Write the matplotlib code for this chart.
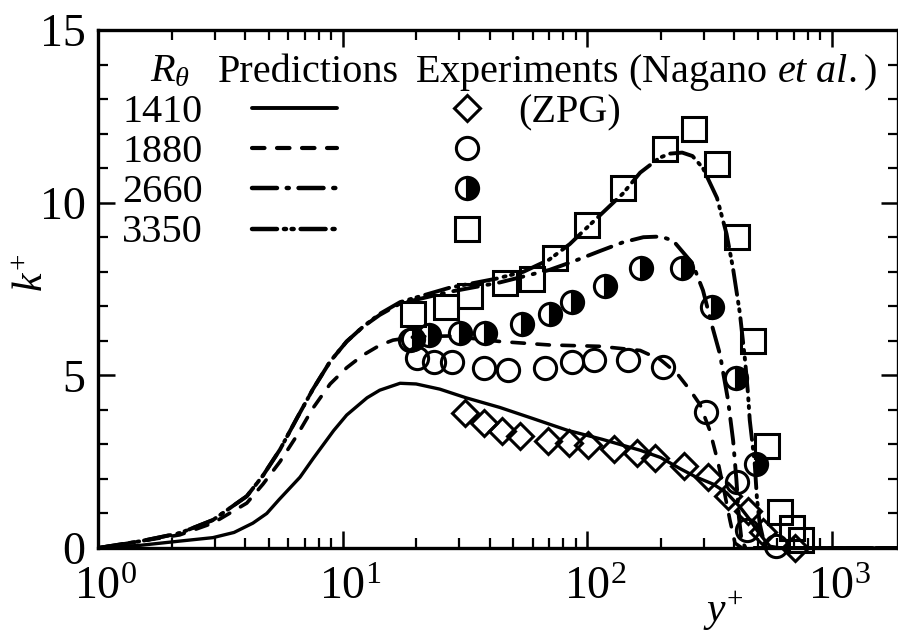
import numpy as np
import matplotlib
matplotlib.use('Agg')
import matplotlib.pyplot as plt
import matplotlib.transforms as mtransforms
from matplotlib.ticker import LogLocator, MultipleLocator, NullFormatter, LogFormatterMathtext

plt.rcParams['font.family'] = ['Liberation Serif', 'DejaVu Serif']
plt.rcParams['mathtext.fontset'] = 'custom'
plt.rcParams['mathtext.rm'] = 'Liberation Serif'
plt.rcParams['mathtext.it'] = 'Liberation Serif:italic'
plt.rcParams['lines.scale_dashes'] = False

re_theta = ['1410', '1880', '2660', '3350']

# k-epsilon model predictions
pred_y_1410 = [1.0, 1.5, 2.16, 2.95, 3.6, 4.3, 4.9, 5.5, 6.7, 7.6, 9.2, 10.4, 12.6, 14.2, 17.2,
               20, 25, 32, 44, 60, 83, 115, 165, 200, 240, 280, 328, 372, 422, 460, 495, 530,
               560, 620, 1000, 1870]
pred_k_1410 = [0.0, 0.08, 0.2, 0.3, 0.45, 0.72, 1.0, 1.4, 2.05, 2.6, 3.4, 3.85, 4.35, 4.57, 4.77,
               4.75, 4.6, 4.35, 4.07, 3.75, 3.41, 3.15, 2.83, 2.62, 2.3, 2.05, 1.85, 1.6, 1.19, 0.85,
               0.52, 0.25, 0.05, 0.0, 0.0, 0.0]

pred_y_1880 = [1.0, 1.5, 2.16, 2.95, 4.06, 4.73, 5.55, 6.5, 7.57, 8.9, 10.4, 12.1, 14.2, 16.1,
               20, 27.5, 44, 70, 113, 165, 200, 233, 264, 290, 318, 344, 365, 384, 403, 430, 1000, 1870]
pred_k_1880 = [0.0, 0.2, 0.38, 0.72, 1.3, 1.85, 2.5, 3.25, 4.05, 4.75, 5.22, 5.58, 5.87, 6.02,
               6.12, 6.14, 5.98, 5.88, 5.84, 5.72, 5.45, 5.06, 4.57, 4.15, 3.4, 2.46, 1.6, 0.81, 0.14,
               0.0, 0.0, 0.0]

pred_y_2660 = [1.0, 1.5, 2.16, 2.95, 4.06, 4.73, 5.55, 6.5, 7.57, 8.9, 10.4, 12.1, 14.2, 17.2,
               27.5, 44, 70, 88, 113, 140, 170, 200, 225, 270, 298, 326, 350, 362, 377, 396, 408,
               418, 428, 445, 1000, 1870]
pred_k_2660 = [0.0, 0.2, 0.43, 0.81, 1.5, 2.1, 2.85, 3.75, 4.6, 5.4, 5.98, 6.4, 6.75, 7.08,
               7.42, 7.69, 8.05, 8.3, 8.6, 8.85, 9.0, 9.02, 8.9, 8.24, 7.46, 6.39, 5.6, 5.0, 4.3, 3.1,
               2.0, 0.9, 0.25, 0.0, 0.0, 0.0]

pred_y_3350 = [1.0, 1.5, 2.16, 2.95, 4.06, 4.73, 5.55, 6.5, 7.57, 8.9, 10.4, 12.1, 14.2, 17.2,
               27.5, 42.6, 55, 70, 85, 100, 140, 165, 198, 218, 245, 270, 298, 340, 372, 395, 422,
               443, 455, 463, 485, 495, 508, 530, 560, 1000, 1870]
pred_k_3350 = [0.0, 0.2, 0.43, 0.81, 1.5, 2.1, 2.85, 3.75, 4.6, 5.4, 5.98, 6.4, 6.78, 7.12,
               7.54, 7.8, 8.0, 8.35, 8.8, 9.28, 10.26, 10.87, 11.3, 11.42, 11.45, 11.35, 11.0, 10.14,
               9.1, 8.12, 6.79, 5.43, 4.5, 3.7, 2.46, 1.47, 0.72, 0.14, 0.0, 0.0, 0.0]

# measurements, Nagano et al.
exp_y_1410 = [31.7, 37.9, 44.9, 53.2, 69.2, 84.4, 101, 129, 160, 190, 249, 313, 377, 455, 525, 709]
exp_k_1410 = [3.90, 3.61, 3.38, 3.24, 3.09, 3.03, 2.98, 2.86, 2.75, 2.60, 2.37, 2.05, 1.50, 1.07,
              0.46, 0.0]

exp_y_1880 = [18.9, 20.2, 23.7, 28.1, 37.9, 47.5, 67.3, 86.9, 107, 147, 205, 307, 411, 451, 593]
exp_k_1880 = [6.01, 5.49, 5.38, 5.38, 5.20, 5.14, 5.20, 5.38, 5.43, 5.43, 5.23, 3.93, 1.91, 0.52,
              0.06]

exp_y_2660 = [19.4, 22.6, 30.3, 38.3, 54.2, 70.6, 86.9, 118.5, 166, 245, 325, 407, 491]
exp_k_2660 = [6.04, 6.18, 6.24, 6.24, 6.50, 6.79, 7.11, 7.60, 8.12, 8.12, 6.99, 4.91, 2.43]

exp_y_3350 = [19.4, 26.5, 33.2, 46.2, 59.6, 74.0, 100, 140, 208, 274, 340, 411, 477, 545, 616,
              689, 750]
exp_k_3350 = [6.79, 6.97, 7.31, 7.66, 7.80, 8.41, 9.34, 10.43, 11.56, 12.14, 11.13, 9.02, 5.98,
              2.95, 1.04, 0.58, 0.23]

pred_y = [pred_y_1410, pred_y_1880, pred_y_2660, pred_y_3350]
pred_k = [pred_k_1410, pred_k_1880, pred_k_2660, pred_k_3350]
exp_y = [exp_y_1410, exp_y_1880, exp_y_2660, exp_y_3350]
exp_k = [exp_k_1410, exp_k_1880, exp_k_2660, exp_k_3350]

line_dashes = [None, (0, (9, 9)), (0, (18, 7, 1.5, 7)), (0, (18, 5, 1.5, 4, 1.5, 5))]
line_widths = [2.4, 2.6, 2.8, 2.8]
marker_kw = [
    dict(marker='D', markersize=13.5, markerfacecolor='none'),
    dict(marker='o', markersize=16, markerfacecolor='none'),
    dict(marker='o', markersize=16, fillstyle='right', markerfacecolor='black',
         markerfacecoloralt='none'),
    dict(marker='s', markersize=17.5, markerfacecolor='none'),
]

fig = plt.figure(figsize=(8.98, 6.35), dpi=100)
ax = fig.add_axes([98 / 898, 87 / 635, 800 / 898, 518 / 635])

for i in range(4):
    ls = '-' if line_dashes[i] is None else line_dashes[i]
    ax.plot(pred_y[i], pred_k[i], color='black', linestyle=ls, linewidth=line_widths[i],
            dash_capstyle='round', solid_capstyle='round', zorder=3)
    ax.plot(exp_y[i], exp_k[i], linestyle='none', color='black', markeredgecolor='black',
            markeredgewidth=2.2, clip_on=False, zorder=4, **marker_kw[i])

ax.set_xscale('log')
ax.set_xlim(1, 1870)
ax.set_ylim(0, 15)

ax.xaxis.set_major_locator(LogLocator(base=10, numticks=10))
ax.xaxis.set_minor_locator(LogLocator(base=10, subs=np.arange(2, 10), numticks=20))
ax.xaxis.set_major_formatter(LogFormatterMathtext())
ax.xaxis.set_minor_formatter(NullFormatter())
ax.yaxis.set_major_locator(MultipleLocator(5))
ax.yaxis.set_minor_locator(MultipleLocator(1))

ax.tick_params(which='both', direction='in', top=True, right=True, labelsize=33)
ax.tick_params(which='major', length=12, width=1.8)
ax.tick_params(which='minor', length=7, width=1.6)
ax.tick_params(axis='x', which='major', pad=13)
ax.tick_params(axis='y', which='major', pad=9)
for sp in ax.spines.values():
    sp.set_linewidth(2.4)

# keep the "10" under the tick, exponent hangs to the right
shift = mtransforms.ScaledTranslation(0.08, 0, fig.dpi_scale_trans)
for lbl in ax.get_xticklabels():
    lbl.set_transform(lbl.get_transform() + shift)

ax.set_xlabel(r'$y^{+}$', fontsize=30, va='center')
ax.xaxis.set_label_coords(0.781, -0.122)
ax.set_ylabel(r'$k^{+}$', fontsize=30, va='center')
ax.yaxis.set_label_coords(-0.082, 0.531)

# key block in the upper left
fs = 29
ax.text(0.065, 0.900, r'$R_\theta$', fontsize=fs, transform=ax.transAxes, va='baseline')
ax.text(0.150, 0.900, 'Predictions', fontsize=fs, transform=ax.transAxes, va='baseline')
ax.text(0.396, 0.900, r'Experiments (Nagano $et\ al.$)', fontsize=fs,
        transform=ax.transAxes, va='baseline')
ax.text(0.525, 0.822, '(ZPG)', fontsize=fs, transform=ax.transAxes, va='baseline')

row_base = [0.822, 0.745, 0.668, 0.591]
row_line = [0.849, 0.772, 0.695, 0.616]
for i in range(4):
    ax.text(0.030, row_base[i], re_theta[i], fontsize=fs, transform=ax.transAxes, va='baseline')
    ls = '-' if line_dashes[i] is None else line_dashes[i]
    ax.plot([0.1925, 0.299], [row_line[i], row_line[i]], transform=ax.transAxes, color='black',
            linestyle=ls, linewidth=line_widths[i] + 0.4, dash_capstyle='round',
            solid_capstyle='round')
    ax.plot([0.461], [row_line[i]], transform=ax.transAxes, linestyle='none', color='black',
            markeredgecolor='black', markeredgewidth=2.2, **marker_kw[i])

fig.savefig('out.png', dpi=100)
